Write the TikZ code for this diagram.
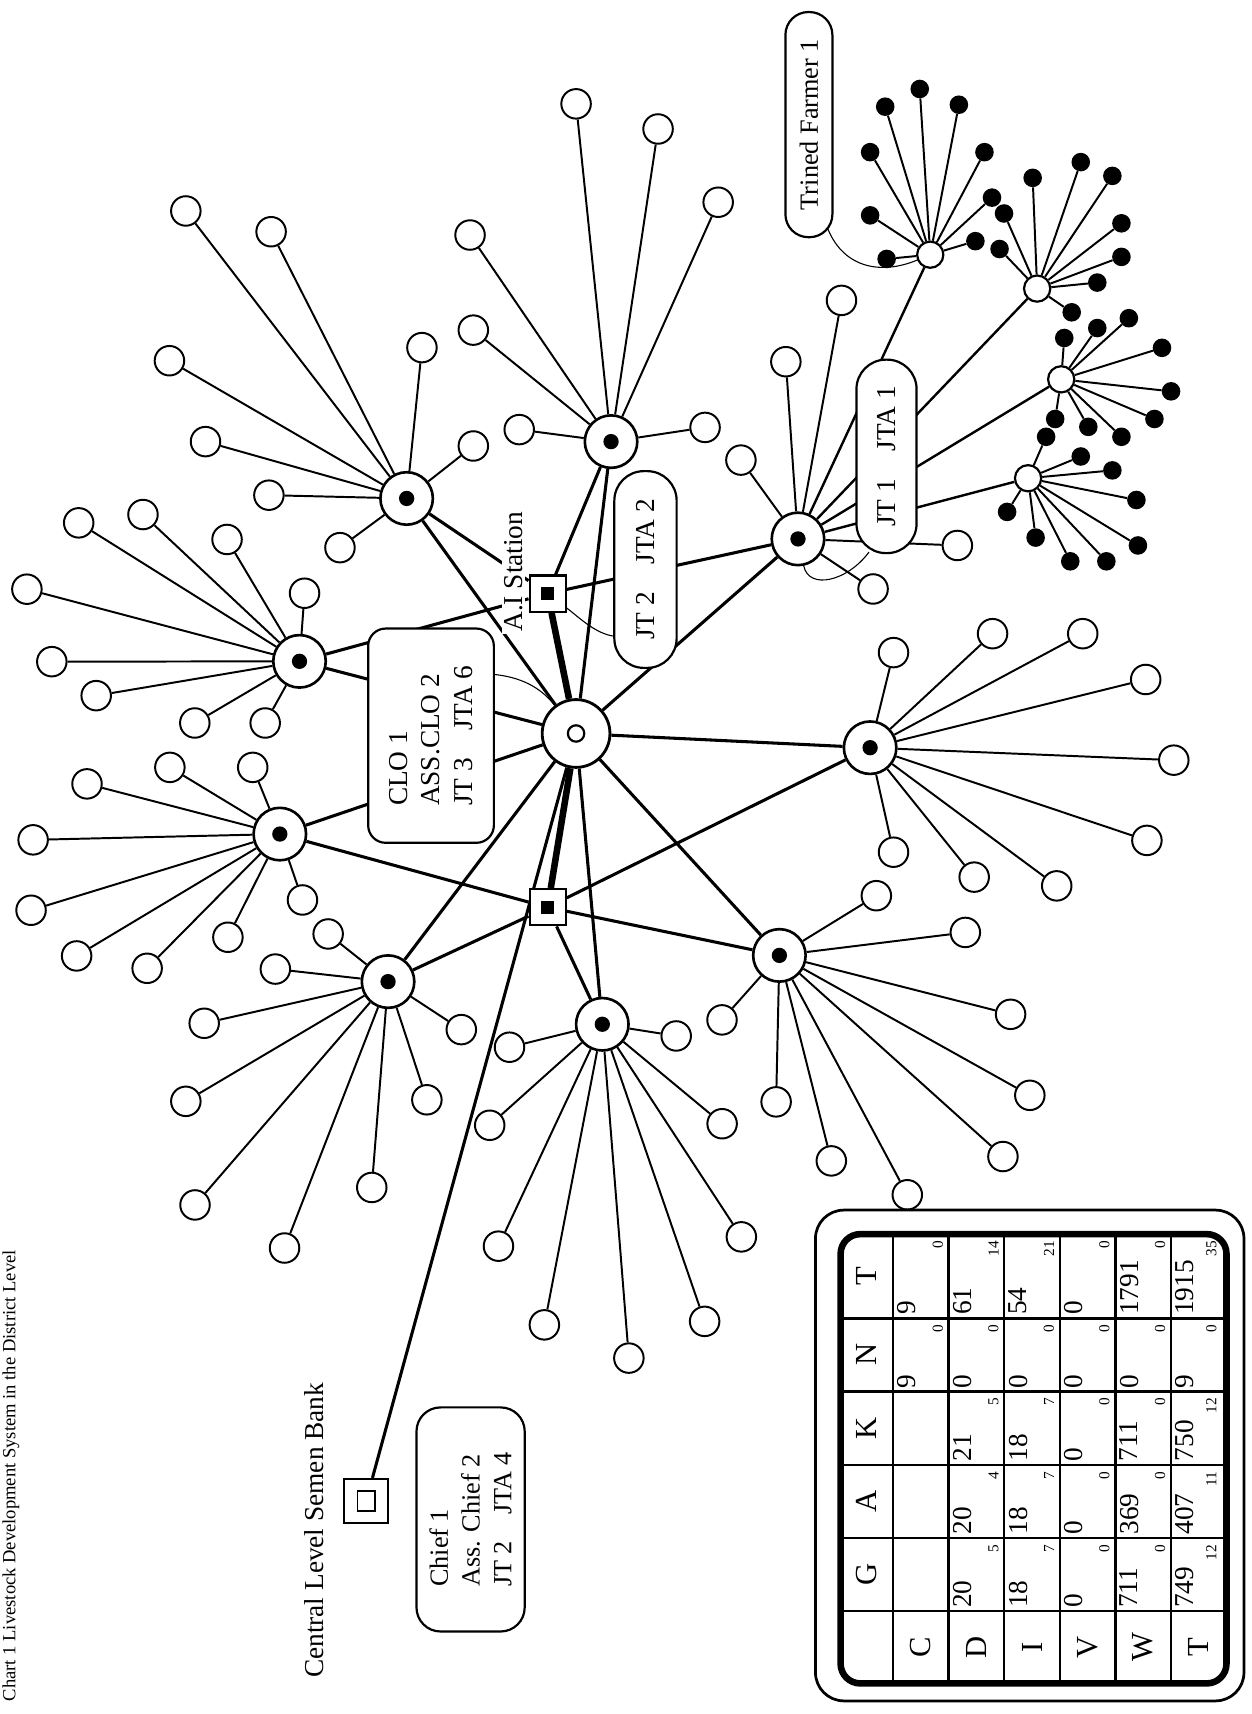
\documentclass[tikz,border=0pt]{standalone}
\usepackage{fontspec}
\setmainfont{Liberation Serif}
\usetikzlibrary{calc}
\pgfdeclarelayer{bg}
\pgfsetlayers{bg,main}
\newcommand{\fan}[3]{%
  \foreach \p [count=\i] in {#2} {%
    \node[#3] (#1-\i) at \p {};
    \begin{pgfonlayer}{bg}\draw[leafline] (#1) -- (#1-\i);\end{pgfonlayer}
  }}
\newcommand{\tcell}[7]{%
  \node[bignum,anchor=north west] (#1a) at ({#2+4},{#4-3}) {#6};
  \node[subnum,anchor=south east] (#1b) at ({#3-5},{#5+6}) {#7};}
\begin{document}
\begin{tikzpicture}[x=1pt,y=-1pt,
  leaf/.style={circle,draw,fill=white,line width=1.8pt,minimum size=27pt,inner sep=0pt},
  hub/.style={circle,draw,fill=white,line width=2.4pt,minimum size=48pt,inner sep=0pt},
  ctr/.style={circle,draw,fill=white,line width=2.6pt,minimum size=62pt,inner sep=0pt},
  fhub/.style={circle,draw,fill=white,line width=2pt,minimum size=24pt,inner sep=0pt},
  farmer/.style={circle,fill=black,minimum size=17pt,inner sep=0pt},
  sqr/.style={rectangle,draw,fill=white,line width=2pt,minimum size=33pt,inner sep=0pt},
  sqin/.style={rectangle,fill=black,minimum size=12pt,inner sep=0pt},
  lbox/.style={draw,fill=white,line width=2pt,rotate=90,align=left,inner sep=0pt},
  leafline/.style={line width=1.8pt},
  hubline/.style={line width=2.8pt},
  heavy/.style={line width=6pt},
  callout/.style={line width=1pt},
  lab/.style={rotate=90,font=\fontsize{25}{29}\selectfont},
  bignum/.style={rotate=90,inner sep=0pt,font=\fontsize{25}{25}\selectfont},
  subnum/.style={rotate=90,inner sep=0pt,font=\fontsize{14}{14}\selectfont},
  tlet/.style={rotate=90,inner sep=0pt,font=\fontsize{28}{28}\selectfont},
]
\useasboundingbox (0,0) rectangle (1145,1568);

% ---------- centre, hubs, squares
\node[ctr] (C) at (527,671) {};
\node[circle,draw,line width=2pt,minimum size=15pt,inner sep=0pt] (Cin) at (C) {};
\foreach \n/\x/\y in {h1/274/605, h2/372/456, h3/559/404, h4/730/493, h5/796/684, h6/713/874, h7/551/937, h8/355/898, h9/256/763} {
  \node[hub] (\n) at (\x,\y) {};
  \node[circle,fill=black,minimum size=14pt,inner sep=0pt] (\n-dot) at (\x,\y) {};
}
\node[sqr] (ai) at (501,543) {};
\node[sqin] (ai-in) at (ai) {};
\node[sqr] (s2) at (501,830) {};
\node[sqin] (s2-in) at (s2) {};
\node[sqr,minimum size=40pt] (bank) at (335,1373) {};
\node[rectangle,draw,line width=1.6pt,minimum width=16pt,minimum height=18pt,inner sep=0pt] (bank-in) at (bank) {};

% ---------- farmer hubs
\node[fhub] (f1) at (851,233) {};
\node[fhub] (f2) at (948.8,264) {};
\node[fhub] (f3) at (970.8,347) {};
\node[fhub] (f4) at (940.5,437.5) {};

% ---------- leaves
\fan{h1}{(278.6,542.7),(207.7,493.5),(130.8,470.7),(72,478.3),(24.6,539),(47.4,605.3),(88,636.4),(178.2,661.4),(242.6,661.4)}{leaf}
\fan{h2}{(433,408),(311,501),(246,453),(188,404),(155,330),(170,193),(248,212),(386,318)}{leaf}
\fan{h3}{(475,393),(645,391),(433,302),(430,215),(527,95),(602,118),(657,185)}{leaf}
\fan{h4}{(677.8,420.9),(718.9,330.9),(769.8,274.8),(875.8,499),(798.7,538.8)}{leaf}
\fan{h5}{(817.4,597),(908,579.7),(990.5,579.7),(1048.1,621.6),(1073.8,695.4),(1049.2,768.8),(966.7,810.4),(891.2,802.4),(817.4,779.6)}{leaf}
\fan{h6}{(801.7,819.4),(883.1,853),(924.5,927.9),(942.1,1002),(917.5,1058),(830,1093),(760.5,1062),(710,1008),(660.5,933)}{leaf}
\fan{h7}{(466.1,958),(618.6,947.7),(448,1029.4),(456,1140),(498,1212),(575.3,1242.4),(644.6,1208.8),(678.2,1131.5),(660.6,1028)}{leaf}
\fan{h8}{(300.2,854.4),(251.9,886.5),(186.8,936.1),(170,1007.5),(178.4,1102.3),(260.3,1141.7),(340.1,1086.3),(390.5,1006.1),(422,941.9)}{leaf}
\fan{h9}{(155.4,702),(231.2,702),(79.6,717.1),(30.3,768.3),(28.4,832.7),(70.1,874.5),(134.6,885.8),(208.5,857.4),(276.7,823.3)}{leaf}
\fan{f1}{(809.8,97.6),(841.4,81.4),(877.2,95.8),(900.6,139.2),(907.5,180.8),(892.3,220.6),(811.1,236.9),(796,197),(796,139.2)}{farmer}
\fan{f2}{(918.5,195.3),(914.4,227.8),(944.7,162.7),(988.7,148.3),(1017.6,160.9),(1025.9,204.3),(1025.9,235),(1003.8,258.5),(980.4,285.7)}{farmer}
\fan{f3}{(973.6,309.2),(1003.8,300.1),(1032.7,291.1),(1063,318.2),(1071.3,358),(1056.1,383.3),(1025.9,399.6),(995.6,390.5),(965.3,383.3)}{farmer}
\fan{f4}{(957,399.6),(988.7,417.6),(1017.6,430.3),(1039.6,457.4),(1041,499),(1012.1,513.5),(979.1,513.5),(947.4,491.8),(921.3,468.3)}{farmer}

% ---------- backbone connectors
\begin{pgfonlayer}{bg}
\foreach \a/\b in {C/h1,C/h2,C/h3,C/h4,C/h5,C/h6,C/h7,C/h8,C/h9,C/bank,ai/h1,ai/h2,ai/h3,ai/h4,s2/h5,s2/h6,s2/h7,s2/h8,s2/h9}
  \draw[hubline] (\a) -- (\b);
\foreach \b in {f1,f2,f3,f4}
  \draw[line width=2.2pt] (h4) -- (\b);
\draw[heavy] (ai) -- (C);
\draw[heavy] (s2) -- (C);
% callouts
\coordinate (cloc) at (452,617);
\draw[callout] (cloc) .. controls (482,620) and (498,633) .. (C);
\coordinate (jt2c) at (562,582);
\draw[callout] (ai) .. controls (530,565) and (545,580) .. (jt2c);
\coordinate (jt1c) at (795,505);
\draw[callout] (h4) .. controls (740,540) and (775,532) .. (jt1c);
\coordinate (tfc) at (756,206);
\draw[callout] (tfc) .. controls (770,245) and (805,252) .. (f1);
\end{pgfonlayer}

% ---------- label boxes
\node[lbox,rounded corners=16pt,minimum width=196pt,minimum height=115pt,font=\fontsize{25}{30}\selectfont] (clo) at (394.3,673) {CLO 1\\ASS.CLO 2\\JT 3\quad JTA 6};
\node[lbox,rounded corners=27pt,minimum width=180pt,minimum height=57pt,font=\fontsize{25}{30}\selectfont] (jt2) at (590.5,521) {JT 2\quad JTA 2};
\node[lbox,rounded corners=27pt,minimum width=177pt,minimum height=55pt,font=\fontsize{25}{30}\selectfont] (jt1) at (811,417.5) {JT 1\quad JTA 1};
\node[lbox,rounded corners=21pt,minimum width=206pt,minimum height=43pt,font=\fontsize{24}{28}\selectfont] (tf) at (740,114) {Trined Farmer 1};
\node[lbox,rounded corners=22pt,minimum width=205pt,minimum height=99pt,font=\fontsize{24}{29}\selectfont] (chief) at (430.5,1390) {Chief 1\\Ass. Chief 2\\JT 2\quad JTA 4};

\node[lab,fill=white,inner sep=2pt] (ailab) at (470,523) {A.I Station};
\node[lab] (banklab) at (287,1400) {Central Level Semen Bank};
\node[rotate=90,font=\fontsize{17}{19}\selectfont] (title) at (10,1350) {Chart 1 Livestock Development System in the District Level};

% ---------- table
\draw[line width=2.5pt,rounded corners=26pt] (746,1107) rectangle (1138,1556);
\draw[line width=6pt,rounded corners=18pt] (769,1129) rectangle (1122,1540);
\foreach \x in {817,867.8,918.7,969.5,1020.3,1071.2}
  \draw[line width=2.2pt] (\x,1129) -- (\x,1540);
\foreach \y in {1206,1273,1340,1407,1474}
  \draw[line width=2.2pt] (769,\y) -- (1122,\y);
\foreach \t/\y in {T/1167.5,N/1239.5,K/1306.5,A/1373.5,G/1440.5}
  \node[tlet] (hd-\t) at (793,\y) {\t};
\foreach \t/\x [count=\k] in {C/842.4,D/893.3,I/944.1,V/994.9,W/1045.8,T/1096.6}
  \node[tlet] (rl-\k) at (\x,1507) {\t};
% row C
\tcell{cCN}{817}{867.8}{1273}{1206}{9}{0}
\tcell{cCT}{817}{867.8}{1206}{1129}{9}{0}
% row D
\tcell{cDG}{867.8}{918.7}{1474}{1407}{20}{5}
\tcell{cDA}{867.8}{918.7}{1407}{1340}{20}{4}
\tcell{cDK}{867.8}{918.7}{1340}{1273}{21}{5}
\tcell{cDN}{867.8}{918.7}{1273}{1206}{0}{0}
\tcell{cDT}{867.8}{918.7}{1206}{1129}{61}{14}
% row I
\tcell{cIG}{918.7}{969.5}{1474}{1407}{18}{7}
\tcell{cIA}{918.7}{969.5}{1407}{1340}{18}{7}
\tcell{cIK}{918.7}{969.5}{1340}{1273}{18}{7}
\tcell{cIN}{918.7}{969.5}{1273}{1206}{0}{0}
\tcell{cIT}{918.7}{969.5}{1206}{1129}{54}{21}
% row V
\tcell{cVG}{969.5}{1020.3}{1474}{1407}{0}{0}
\tcell{cVA}{969.5}{1020.3}{1407}{1340}{0}{0}
\tcell{cVK}{969.5}{1020.3}{1340}{1273}{0}{0}
\tcell{cVN}{969.5}{1020.3}{1273}{1206}{0}{0}
\tcell{cVT}{969.5}{1020.3}{1206}{1129}{0}{0}
% row W
\tcell{cWG}{1020.3}{1071.2}{1474}{1407}{711}{0}
\tcell{cWA}{1020.3}{1071.2}{1407}{1340}{369}{0}
\tcell{cWK}{1020.3}{1071.2}{1340}{1273}{711}{0}
\tcell{cWN}{1020.3}{1071.2}{1273}{1206}{0}{0}
\tcell{cWT}{1020.3}{1071.2}{1206}{1129}{1791}{0}
% row T
\tcell{cTG}{1071.2}{1118}{1474}{1407}{749}{12}
\tcell{cTA}{1071.2}{1118}{1407}{1340}{407}{11}
\tcell{cTK}{1071.2}{1118}{1340}{1273}{750}{12}
\tcell{cTN}{1071.2}{1118}{1273}{1206}{9}{0}
\tcell{cTT}{1071.2}{1118}{1206}{1129}{1915}{35}
\end{tikzpicture}
\end{document}
